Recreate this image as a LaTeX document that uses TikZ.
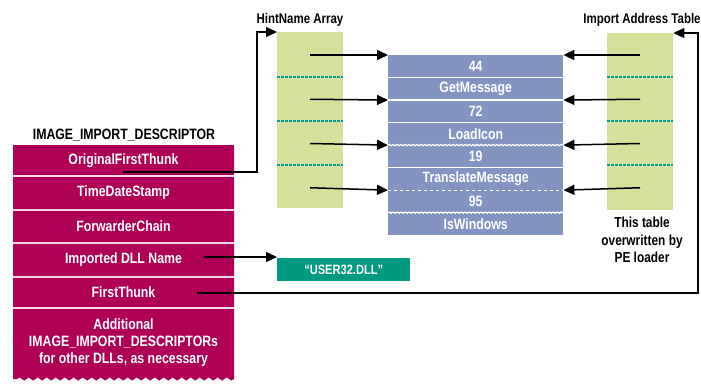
\documentclass[tikz,border=0pt]{standalone}
\usepackage{fontspec}
\setmainfont{Liberation Sans}[FakeStretch=0.82]
\usetikzlibrary{arrows.meta,decorations.pathmorphing}
\definecolor{mag}{RGB}{175,0,85}
\definecolor{grn}{RGB}{213,224,155}
\definecolor{blu}{RGB}{131,148,195}
\definecolor{tealc}{RGB}{0,154,128}
\definecolor{tsepc}{RGB}{0,160,140}
\newcommand{\rowfont}{\bfseries\fontsize{15}{17}\selectfont}
\tikzset{
  arr/.style={line width=1.5pt,-{Triangle[length=11pt,width=10pt]}},
  mrow/.style={minimum width=221pt,inner sep=0pt,text=white,align=center,
    font=\rowfont},
  brow/.style={fill=blu,minimum width=175pt,minimum height=22.125pt,inner sep=0pt,
    text=white,anchor=north west,font=\rowfont},
  gcol/.style={fill=grn,inner sep=0pt,anchor=north west},
  msep/.style={draw=mag!15!white,line width=1.6pt},
  bsep/.style={draw=white,line width=1.2pt},
  wavy/.style={decorate,decoration={snake,amplitude=0.7pt,segment length=4pt}},
  tsep/.style={draw=tsepc,line width=1.3pt,dash pattern=on 3pt off 1pt},
  ttl/.style={text=black,inner sep=0pt,font=\bfseries\fontsize{14}{16}\selectfont},
}
\begin{document}
\begin{tikzpicture}[x=1pt,y=-1pt]
\useasboundingbox (0,0) rectangle (701,386);

% ---- IMAGE_IMPORT_DESCRIPTOR block ----
\node[ttl,font=\rowfont] (iidt) at (124,135) {IMAGE\_IMPORT\_DESCRIPTOR};
\fill[mag] (13,145) -- (234,145) -- (234,379)
  decorate[decoration={snake,amplitude=1.6pt,segment length=9pt}] {-- (13,379)} -- cycle;
\node[mrow,minimum height=31pt] (oft) at (123.5,160.5) {OriginalFirstThunk};
\node[mrow,minimum height=34pt] (tds) at (123.5,193) {TimeDateStamp};
\node[mrow,minimum height=33pt] (fwc) at (123.5,226.5) {ForwarderChain};
\node[mrow,minimum height=34pt] (dll) at (123.5,260) {Imported DLL Name};
\node[mrow,minimum height=31pt] (ft) at (123.5,292.5) {FirstThunk};
\node[mrow] (add) at (123.5,343) {Additional\\IMAGE\_IMPORT\_DESCRIPTORs\\for other DLLs, as necessary};
\draw[msep] (oft.south west) -- (oft.south east);
\draw[msep] (tds.south west) -- (tds.south east);
\draw[msep] (fwc.south west) -- (fwc.south east);
\draw[msep] (dll.south west) -- (dll.south east);
\draw[msep] (ft.south west) -- (ft.south east);

% ---- HintName Array ----
\node[ttl] (hintt) at (300,20) {HintName Array};
\node[gcol,minimum width=66pt,minimum height=176pt] (hint) at (277,32) {};
\draw[tsep] (277,77) -- (343,77);
\draw[tsep] (277,121) -- (343,121);
\draw[tsep] (277,165) -- (343,165);

% ---- Import Address Table ----
\node[ttl] (iatt) at (642,20) {Import Address Table};
\node[gcol,minimum width=66pt,minimum height=177pt] (iat) at (607,33) {};
\draw[tsep] (607,77) -- (673,77);
\draw[tsep] (607,121) -- (673,121);
\draw[tsep] (607,165) -- (673,165);
\node[ttl,align=center,font=\bfseries\fontsize{14.5}{17.5}\selectfont] (note) at (642,240) {This table\\overwritten by\\PE loader};

% ---- names table ----
\node[brow] (b1) at (388,55) {44};
\node[brow] (b2) at (b1.south west) {GetMessage};
\node[brow] (b3) at (b2.south west) {72};
\node[brow] (b4) at (b3.south west) {LoadIcon};
\node[brow] (b5) at (b4.south west) {19};
\node[brow] (b6) at (b5.south west) {TranslateMessage};
\node[brow] (b7) at (b6.south west) {95};
\node[brow] (b8) at (b7.south west) {IsWindows};
\draw[bsep,dashed] (b1.south west) -- (b1.south east);
\draw[bsep] (b2.south west) -- (b2.south east);
\draw[bsep,dashed] (b3.south west) -- (b3.south east);
\draw[bsep,wavy] (b4.south west) -- (b4.south east);
\draw[bsep] (b5.south west) -- (b5.south east);
\draw[bsep,dashed] (b6.south west) -- (b6.south east);
\draw[bsep,wavy] (b7.south west) -- (b7.south east);

% ---- USER32.DLL ----
\node[fill=tealc,text=white,minimum width=133pt,minimum height=23pt,inner sep=0pt,
  anchor=north west,font=\bfseries\fontsize{13.5}{15}\selectfont] (user) at (277,258) {``USER32.DLL''};

% ---- connectors ----
\coordinate (h1) at (310,55);
\coordinate (h2) at (310,99.25);
\coordinate (h3) at (310,143.5);
\coordinate (h4) at (310,187.75);
\draw[arr] (h1) -- (b1.north west);
\draw[arr] (h2) -- (b3.north west);
\draw[arr] (h3) -- (b5.north west);
\draw[arr] (h4) -- (b7.north west);
\coordinate (i1) at (640,55);
\coordinate (i2) at (640,99.25);
\coordinate (i3) at (640,143.5);
\coordinate (i4) at (640,187.75);
\draw[arr] (i1) -- (b1.north east);
\draw[arr] (i2) -- (b3.north east);
\draw[arr] (i3) -- (b5.north east);
\draw[arr] (i4) -- (b7.north east);

\coordinate (oftS) at (123,172);
\draw[arr] (oftS) -- ++(134,0) |- (hint.north west);
\coordinate (dllS) at (204,257);
\draw[arr] (dllS) -- (user.north west |- dllS);
\coordinate (ftS) at (197,293);
\draw[arr] (ftS) -- ++(501,0) |- (iat.north east);
\end{tikzpicture}
\end{document}
